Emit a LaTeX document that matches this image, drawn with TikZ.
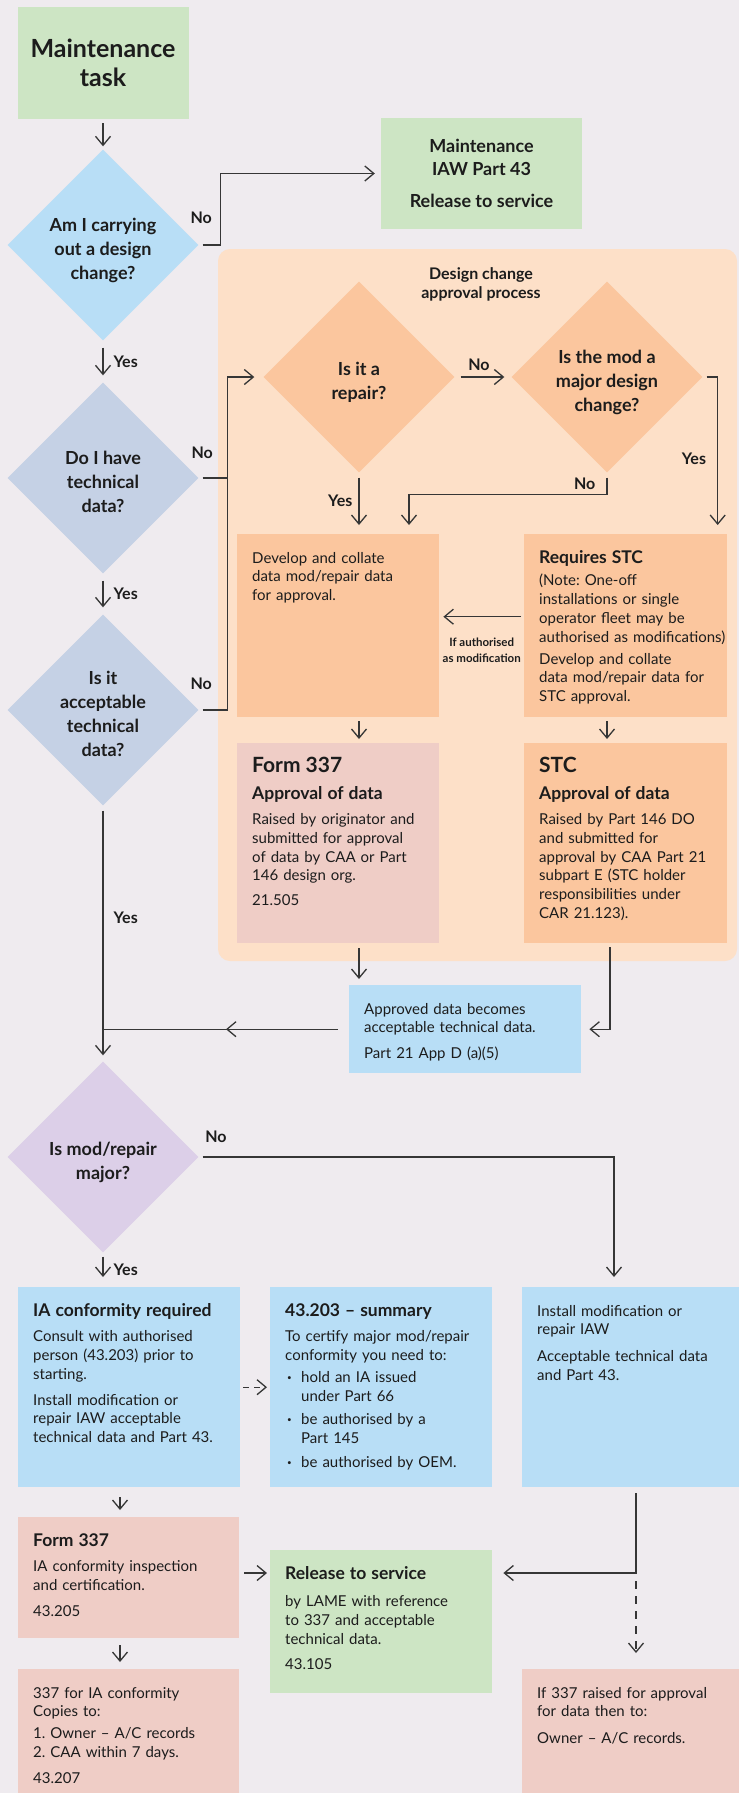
\documentclass[tikz,border=0pt]{standalone}
\usepackage{fontspec}
\setmainfont{Lato}
\usetikzlibrary{arrows.meta,positioning,calc,shapes.geometric,decorations.markings}
\definecolor{pageBg}{HTML}{EFEBEF}
\definecolor{inkDark}{HTML}{1C1C1C}
\definecolor{lineDark}{HTML}{363636}
\definecolor{greenFill}{HTML}{CDE5C4}
\definecolor{blueFill}{HTML}{B8DEF6}
\definecolor{slateFill}{HTML}{C5D1E5}
\definecolor{lilacFill}{HTML}{DCCFE8}
\definecolor{peachFill}{HTML}{FDE0C8}
\definecolor{orangeFill}{HTML}{FBC69E}
\definecolor{pinkFill}{HTML}{EFCDC6}
\frenchspacing

\newcommand{\bodysize}{\fontsize{15}{18.7}\selectfont}
\newcommand{\headsize}{\fontsize{17.5}{22}\selectfont\bfseries}
\newcommand{\bigsize}{\fontsize{21}{25}\selectfont\bfseries}
\newcommand{\qtext}[1]{\smash{\makebox[0pt]{\raisebox{-10pt}{%
  \begin{tabular}{@{}c@{}}#1\end{tabular}}}}}
\newcommand{\bul}{\makebox[16pt][l]{\hspace{2pt}\raisebox{2pt}{\fontsize{8}{8}\selectfont\textbullet}}}
\newcommand{\ind}{\hspace*{16pt}}

\begin{document}
\begin{tikzpicture}[
  x=1pt, y=-1pt,
  font=\bodysize, text=inkDark,
  card/.style={rectangle, anchor=north west, align=left,
    inner xsep=15pt, inner ysep=17pt, text height=12pt},
  headbox/.style={rectangle, fill=greenFill, align=center, inner sep=0pt},
  question/.style={diamond, inner sep=0pt, minimum width=191pt,
    minimum height=191pt, font=\fontsize{18}{24}\selectfont\bfseries},
  region/.style={rectangle, rounded corners=12pt, fill=peachFill, inner sep=0pt},
  flow/.style={draw=lineDark, line width=1.3pt, shorten <=4pt, shorten >=4pt,
    -{Straight Barb[length=9pt,width=15pt]}},
  link/.style={draw=lineDark, line width=1.3pt},
  midarrow/.style={decoration={markings, mark=at position 0.5 with
    {\arrow{Straight Barb[length=9pt,width=15pt]}}}, postaction={decorate}},
  lbl/.style={font=\fontsize{16}{18}\selectfont\bfseries, inner sep=2pt},
  tag/.style={font=\fontsize{11.5}{16}\selectfont\bfseries, align=center, inner sep=1pt},
]

% =============================== page ======================================
\useasboundingbox (0,0) rectangle (739,1793);
\fill[pageBg] (0,0) rectangle (739,1793);

% =============================== nodes =====================================
\node[headbox, minimum width=171pt, minimum height=112pt,
      font=\fontsize{25}{29}\selectfont\bfseries] (start) at (103,63) {Maintenance\\task};

\node[question, fill=blueFill] (carry) at (103,245)
  {\qtext{Am I carrying\\out a design\\change?}};

\node[headbox, minimum width=201pt, minimum height=111pt,
      font=\fontsize{18}{23}\selectfont\bfseries] (iaw) at (481.5,173.5)
  {Maintenance\\IAW Part 43\\[9pt]Release to service};

\node[question, fill=slateFill] (have) at (103,478)
  {\qtext{Do I have\\technical\\data?}};

\node[question, fill=slateFill] (accept) at (103,710)
  {\qtext{Is it\\acceptable\\technical\\data?}};

% design change approval process
\node[region, minimum width=519pt, minimum height=712pt] (dcap) at (477.5,605) {};
\node[font=\fontsize{16}{19}\selectfont\bfseries, align=center] (dcaptitle) at (481,284)
  {Design change\\approval process};

\node[question, fill=orangeFill] (repair) at (359,377) {\qtext{Is it a\\repair?}};
\node[question, fill=orangeFill] (major) at (607,377)
  {\qtext{Is the mod a\\major design\\change?}};

\node[card, fill=orangeFill, text width=172pt, text depth=137pt] (develop) at (237,534)
  {Develop and collate\\data mod/repair data\\for approval.};

\node[card, fill=orangeFill, text width=173pt, text depth=137pt] (reqstc) at (524,534)
  {{\headsize Requires STC}\\[4pt]
   (Note: One-off\\installations or single\\operator fleet may be\\
   \mbox{authorised as modifications)}\\[3.5pt]
   Develop and collate\\data mod/repair data for\\STC approval.};

\node[card, fill=pinkFill, text width=172pt, text depth=154pt] (form337a) at (237,743)
  {{\bigsize Form 337}\\[9pt]{\headsize Approval of data}\\[6pt]
   Raised by originator and\\submitted for approval\\of data by CAA or Part\\146 design org.\\[6pt]
   21.505};

\node[card, fill=orangeFill, text width=173pt, text depth=154pt] (stc) at (524,743)
  {{\bigsize STC}\\[9pt]{\headsize Approval of data}\\[6pt]
   Raised by Part 146 DO\\and submitted for\\approval by CAA Part 21\\subpart E (STC holder\\responsibilities under\\CAR 21.123).};

\node[card, fill=blueFill, text width=202pt, text depth=42pt] (approved) at (349,985)
  {Approved data becomes\\acceptable technical data.\\[7pt]Part 21 App D (a)(5)};

\node[question, fill=lilacFill] (modmaj) at (103,1157) {\qtext{Is mod/repair\\major?}};

\node[card, fill=blueFill, text width=192pt, text depth=154pt] (iaconf) at (18,1287)
  {{\headsize IA conformity required}\\[7pt]
   Consult with authorised\\person (43.203) prior to\\starting.\\[7pt]
   Install modification or\\repair IAW acceptable\\technical data and Part 43.};

\node[card, fill=blueFill, text width=192pt, text depth=154pt] (summary) at (270,1287)
  {{\headsize 43.203 – summary}\\[7pt]
   To certify major mod/repair\\conformity you need to:\\[3pt]
   \bul hold an IA issued\\\ind under Part 66\\[5pt]
   \bul be authorised by a\\\ind Part 145\\[5pt]
   \bul be authorised by OEM.};

\node[card, fill=blueFill, text width=187pt, text depth=154pt] (install) at (522,1287)
  {Install modification or\\repair IAW\\[8pt]Acceptable technical data\\and Part 43.};

\node[card, fill=pinkFill, text width=191pt, text depth=75pt] (form337b) at (18,1517)
  {{\headsize Form 337}\\[7pt]IA conformity inspection\\and certification.\\[7pt]43.205};

\node[card, fill=greenFill, text width=192pt, text depth=97pt] (release) at (270,1550)
  {{\headsize Release to service}\\[9pt]by LAME with reference\\to 337 and acceptable\\technical data.\\[6pt]43.105};

\node[card, fill=pinkFill, text width=191pt, text depth=78pt] (copies) at (18,1669)
  {337 for IA conformity\\Copies to:\\[3pt]1. Owner – A/C records\\2. CAA within 7 days.\\[7pt]43.207};

\node[card, fill=pinkFill, text width=187pt, text depth=78pt] (raised) at (522,1669)
  {If 337 raised for approval\\for data then to:\\[8pt]Owner – A/C records.};

% =============================== flows =====================================
% start -> design change?
\draw[flow, shorten >=3pt] (start.south) -- (carry.north);

% no design change -> Part 43 release
\draw[flow, shorten >=6pt] (carry.east)
  node[lbl, anchor=south, xshift=2.5pt, yshift=19pt] {No} -- ++(22,0) |- (iaw.west);

% yes ladder down the left column
\draw[flow, shorten <=7pt, shorten >=7pt] (carry.south) --
  node[lbl, anchor=west, xshift=8pt] {Yes} (have.north);
\draw[flow, shorten <=7pt, shorten >=7pt] (have.south) --
  node[lbl, anchor=west, xshift=8pt] {Yes} (accept.north);

% no data / not acceptable -> approval process
\coordinate (join) at ($(repair.west)+(-36,0)$);
\draw[link, shorten <=4pt] (have.east)
  node[lbl, anchor=south, xshift=3.5pt, yshift=17pt] {No} -- (have.east -| join);
\draw[flow, shorten >=9pt] (accept.east)
  node[lbl, anchor=south, xshift=2.5pt, yshift=18pt] {No} -| (join) -- (repair.west);

% inside the approval process
\draw[flow, shorten <=6pt, shorten >=7pt] (repair.east) --
  node[lbl, above, xshift=-4pt, yshift=4pt] {No} (major.west);
\draw[flow, shorten >=9pt] (major.east) -- ++(15,0) coordinate (ycorner)
  -- node[lbl, left, pos=0.52, xshift=-9pt] {Yes} (ycorner |- reqstc.north);
\draw[flow, shorten <=5pt, shorten >=9pt] (major.south) --
  node[lbl, left, xshift=-9pt] {No} ++(0,22) -| ($(develop.north west)+(172,0)$);
\draw[flow, shorten <=5pt, shorten >=9pt] (repair.south) --
  node[lbl, left, pos=0.46, xshift=-4pt] {Yes} (repair.south |- develop.north);
\draw[flow, shorten <=3pt] ($(reqstc.west)+(0,-9)$) --
  node[tag, below=20pt] {If authorised\\as modification} ($(develop.east)+(0,-9)$);
\draw[flow] (develop.south -| repair.south) -- (form337a.north -| repair.south);
\draw[flow] (reqstc.south -| major.south) -- (stc.north -| major.south);

% approvals -> acceptable data
\draw[flow, shorten <=5pt, shorten >=6pt] (form337a.south -| repair.south) --
  (approved.north -| repair.south);
\draw[flow, shorten >=8pt] ($(stc.south west)+(86,0)$) |- (approved.east);

% yes trunk, joined by the approved data
\draw[flow, shorten <=5pt, shorten >=6pt] (accept.south) --
  node[lbl, anchor=west, pos=0.44, xshift=8pt] {Yes} (modmaj.north);
\draw[link, midarrow, shorten <=11pt] (approved.west) -- (approved.west -| accept.south);

% major or not
\draw[flow, shorten >=10pt] (modmaj.east)
  node[lbl, anchor=south west, xshift=4pt, yshift=12pt] {No} -| ($(install.north west)+(92,0)$);
\draw[flow, shorten >=10pt] (modmaj.south) --
  node[lbl, anchor=west, xshift=8pt] {Yes} (modmaj.south |- iaconf.north);
\draw[flow, dash pattern=on 6pt off 5pt, shorten <=3pt, shorten >=3pt]
  (iaconf.east) -- (summary.west);
\draw[flow, shorten <=10pt, shorten >=7pt] ($(iaconf.south west)+(102,0)$) --
  ($(form337b.north west)+(102,0)$);
\draw[flow, shorten <=7pt, shorten >=7pt] ($(form337b.south west)+(102,0)$) --
  ($(copies.north west)+(102,0)$);

% into release to service
\coordinate (relin)  at ($(release.north west)+(0,23)$);
\coordinate (relout) at ($(release.north east)+(0,23)$);
\coordinate (drop)   at ($(install.south west)+(114,0)$);
\draw[flow, shorten <=5pt, shorten >=3pt] (form337b.east |- relin) -- (relin);
\draw[flow, shorten <=6pt, shorten >=11pt] (drop) |- (relout);
\draw[flow, dash pattern=on 8pt off 7pt, shorten <=8pt, shorten >=16pt]
  (drop |- relout) -- (drop |- raised.north);

\end{tikzpicture}
\end{document}
